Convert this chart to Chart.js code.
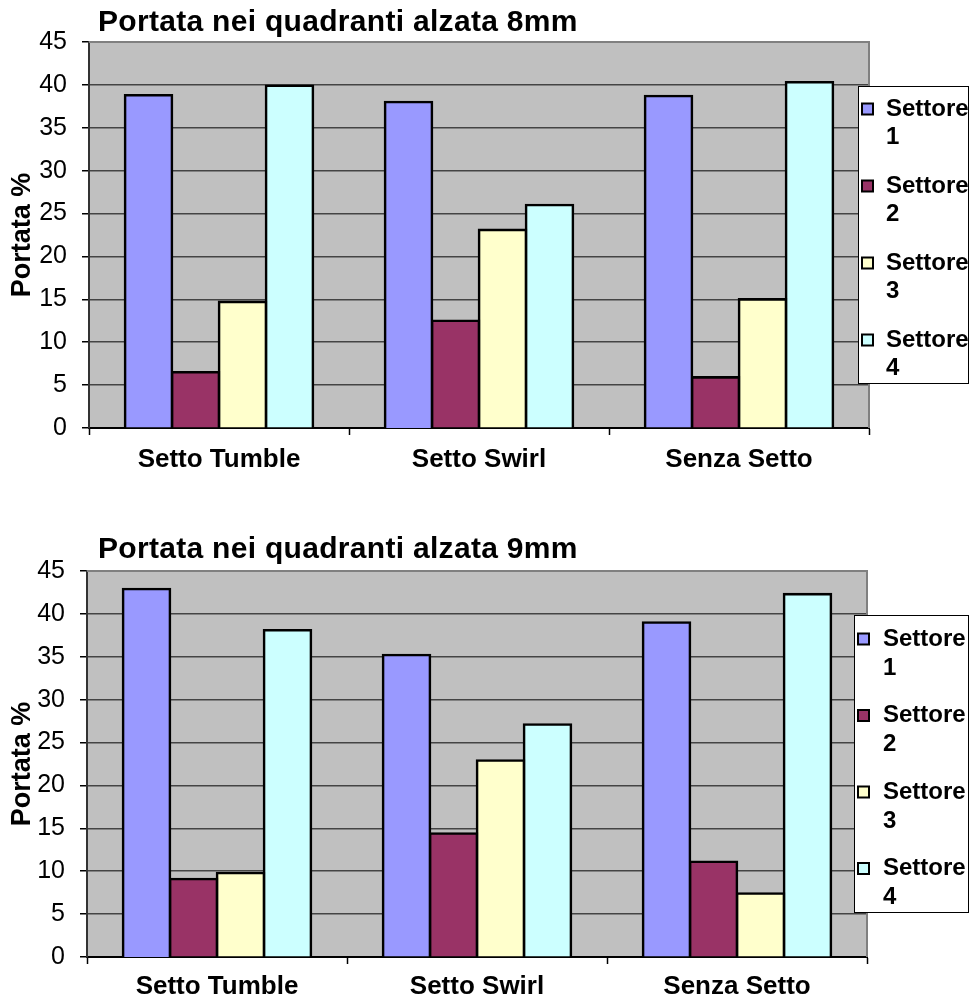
<!DOCTYPE html>
<html>
<head>
<meta charset="utf-8">
<script src="https://cdn.jsdelivr.net/npm/chart.js@4/dist/chart.umd.min.js"></script>
<style>
  html, body { margin: 0; padding: 0; background: #fff; }
  body { width: 971px; height: 1001px; position: relative; overflow: hidden; }
  canvas { position: absolute; left: 0; }
  #chart8 { top: 0; }
  #chart9 { top: 500px; }
</style>
</head>
<body>
<canvas id="chart8" width="971" height="500"></canvas>
<canvas id="chart9" width="971" height="501"></canvas>
<script>
// Categories and series
const categories = ['Setto Tumble', 'Setto Swirl', 'Senza Setto'];
const seriesLabels = ['Settore 1', 'Settore 2', 'Settore 3', 'Settore 4'];
const yTickValues = [0, 5, 10, 15, 20, 25, 30, 35, 40, 45];

// Portata % per settore, alzata 8mm
const settore1_8mm = [38.8, 38.0, 38.7];
const settore2_8mm = [6.5, 12.5, 5.9];
const settore3_8mm = [14.7, 23.1, 15.0];
const settore4_8mm = [39.9, 26.0, 40.3];

// Portata % per settore, alzata 9mm
const settore1_9mm = [42.9, 35.2, 39.0];
const settore2_9mm = [9.1, 14.4, 11.1];
const settore3_9mm = [9.8, 22.9, 7.4];
const settore4_9mm = [38.1, 27.1, 42.3];

const seriesColors = ['#9999FF', '#993366', '#FFFFCC', '#CCFFFF'];
const FONT = "'Liberation Sans', Arial, Helvetica, sans-serif";

// Plot background, frame, title and the boxed legend that sits over the plot's right edge
const plotDecor = {
  id: 'plotDecor',
  beforeDraw(chart, args, o) {
    const { ctx, chartArea: a } = chart;
    ctx.save();
    ctx.fillStyle = '#C0C0C0';
    ctx.fillRect(a.left, a.top, a.right - a.left, a.bottom - a.top);
    ctx.restore();
  },
  afterDraw(chart, args, o) {
    const { ctx, chartArea: a } = chart;
    ctx.save();
    // top and right frame of the plot area
    ctx.strokeStyle = '#808080';
    ctx.lineWidth = 2;
    ctx.beginPath();
    ctx.moveTo(a.left, a.top);
    ctx.lineTo(a.right, a.top);
    ctx.lineTo(a.right, a.bottom);
    ctx.stroke();

    // chart title
    ctx.fillStyle = '#000';
    ctx.font = `bold 30px ${FONT}`;
    ctx.textAlign = 'left';
    ctx.textBaseline = 'alphabetic';
    ctx.letterSpacing = '0.3px';
    ctx.fillText(o.title, o.titleX, o.titleY);
    ctx.letterSpacing = '0px';

    // legend
    const L = o.legend;
    ctx.fillStyle = '#fff';
    ctx.fillRect(L.x, L.y, L.w, L.h);
    ctx.strokeStyle = '#000';
    ctx.lineWidth = 1;
    ctx.strokeRect(L.x + 0.5, L.y + 0.5, L.w - 1, L.h - 1);
    chart.data.datasets.forEach((ds, i) => {
      const cy = L.y + L.first + i * L.step;
      ctx.fillStyle = ds.backgroundColor;
      ctx.fillRect(L.x + L.sx, cy - 5.5, 11, 11);
      ctx.strokeStyle = '#000';
      ctx.lineWidth = 2;
      ctx.strokeRect(L.x + L.sx, cy - 5.5, 11, 11);
      ctx.fillStyle = '#000';
      ctx.font = `bold 24px ${FONT}`;
      ctx.textAlign = 'left';
      ctx.textBaseline = 'middle';
      ds.label.split(' ').forEach((word, k) => {
        ctx.fillText(word, L.x + L.tx, cy + k * L.line);
      });
    });
    ctx.restore();
  }
};

function makeChart(canvasId, values, title, layout) {
  return new Chart(document.getElementById(canvasId), {
    type: 'bar',
    data: {
      labels: categories,
      datasets: seriesLabels.map((label, i) => ({
        label,
        data: values[i],
        backgroundColor: seriesColors[i],
        borderColor: '#000',
        borderWidth: 2.6,
        inflateAmount: 1.3,
        borderSkipped: 'start'
      }))
    },
    options: {
      responsive: false,
      animation: false,
      events: [],
      layout: { padding: { left: 0, top: layout.top, right: layout.right, bottom: 0 } },
      datasets: { bar: { categoryPercentage: 0.723, barPercentage: 1 } },
      plugins: {
        legend: { display: false },
        title: { display: false },
        tooltip: { enabled: false },
        plotDecor: {
          title,
          titleX: 98,
          titleY: layout.titleY,
          legend: layout.legend
        }
      },
      scales: {
        x: {
          z: 1,
          offset: true,
          grid: {
            display: true,
            offset: true,
            drawOnChartArea: false,
            drawTicks: true,
            tickLength: 7,
            tickColor: '#000',
            tickWidth: 1.5
          },
          border: { display: true, color: '#000', width: 2 },
          ticks: {
            color: '#000',
            font: { family: FONT, size: 26, weight: 'bold' },
            padding: layout.xPad,
            maxRotation: 0,
            autoSkip: false
          },
          afterFit(scale) { scale.height = layout.xHeight; }
        },
        y: {
          min: 0,
          max: 45,
          afterBuildTicks(scale) { scale.ticks = yTickValues.map(v => ({ value: v })); },
          ticks: {
            color: '#000',
            font: { family: FONT, size: 25 },
            padding: 15
          },
          grid: {
            color: '#444',
            lineWidth: 1.5,
            tickLength: 7,
            tickColor: '#000',
            tickWidth: 1.5
          },
          border: { display: true, color: '#333', width: 2 },
          title: {
            display: true,
            text: 'Portata %',
            color: '#000',
            font: { family: FONT, size: 27, weight: 'bold' },
            padding: { top: 6, bottom: 0 }
          },
          afterFit(scale) { scale.width = layout.yWidth; }
        }
      }
    },
    plugins: [plotDecor]
  });
}

makeChart('chart8',
  [settore1_8mm, settore2_8mm, settore3_8mm, settore4_8mm],
  'Portata nei quadranti alzata 8mm',
  {
    top: 42, right: 102, yWidth: 89, xHeight: 72, xPad: 9, titleY: 31,
    legend: { x: 858, y: 86, w: 111, h: 298, first: 23, step: 77, sx: 4, tx: 28, line: 28 }
  });

makeChart('chart9',
  [settore1_9mm, settore2_9mm, settore3_9mm, settore4_9mm],
  'Portata nei quadranti alzata 9mm',
  {
    top: 71, right: 104, yWidth: 87, xHeight: 44, xPad: 7, titleY: 58,
    legend: { x: 854, y: 115, w: 115, h: 298, first: 24, step: 76.5, sx: 4, tx: 29, line: 29 }
  });
</script>
</body>
</html>
